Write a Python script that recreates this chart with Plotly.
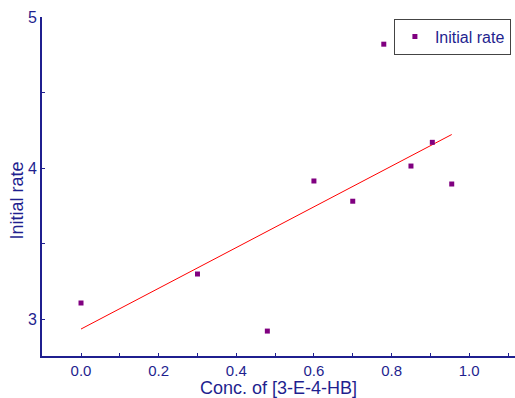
import numpy as np
import plotly.graph_objects as go

conc = [0.0, 0.30, 0.48, 0.60, 0.70, 0.78, 0.85, 0.905, 0.955]
rate = [3.106, 3.298, 2.92, 3.914, 3.78, 4.82, 4.013, 4.17, 3.894]
x_ticks = [0.0, 0.2, 0.4, 0.6, 0.8, 1.0]
x_tick_labels = ["0.0", "0.2", "0.4", "0.6", "0.8", "1.0"]
y_ticks = [3, 4, 5]
y_tick_labels = ["3", "4", "5"]

slope, intercept = np.polyfit(conc, rate, 1)
fit_x = [min(conc), max(conc)]
fit_y = [intercept + slope * v for v in fit_x]

navy = "#1f1f8f"
fig = go.Figure()
fig.add_trace(go.Scatter(x=fit_x, y=fit_y, mode="lines",
                         line=dict(color="red", width=1), showlegend=False))
fig.add_trace(go.Scatter(x=conc, y=rate, mode="markers", name="Initial rate",
                         marker=dict(symbol="square", size=5, color="#800080")))

fig.update_layout(
    width=515, height=398,
    margin=dict(l=42, r=0, t=17, b=42, autoexpand=False),
    paper_bgcolor="white", plot_bgcolor="white",
    font=dict(family="Liberation Sans, Arial, sans-serif", color=navy, size=15),
    legend=dict(x=0.744, y=0.995, xanchor="left", yanchor="top",
                bordercolor="#444444", borderwidth=1, bgcolor="white",
                font=dict(size=16, color=navy),
                itemwidth=30, tracegroupgap=0),
    xaxis=dict(range=[-0.1005, 1.118], tickvals=x_ticks, ticktext=x_tick_labels,
               showgrid=False, zeroline=False, showline=True, linecolor=navy,
               linewidth=2, ticks="inside", ticklen=3, tickcolor=navy,
               minor=dict(ticks="inside", ticklen=3, tickcolor=navy, dtick=0.1),
               title=dict(text="Conc. of [3-E-4-HB]", font=dict(size=18), standoff=8),
               tickfont=dict(size=15)),
    yaxis=dict(range=[2.755, 5.0], tickvals=y_ticks, ticktext=y_tick_labels,
               showgrid=False, zeroline=False, showline=True, linecolor=navy,
               linewidth=2, ticks="inside", ticklen=3, tickcolor=navy,
               minor=dict(ticks="inside", ticklen=3, tickcolor=navy, dtick=0.5),
               tickfont=dict(size=16)),
    annotations=[dict(text="Initial rate", xref="paper", yref="paper",
                      x=-0.052, y=0.46, xanchor="center", yanchor="middle",
                      textangle=-90, showarrow=False,
                      font=dict(size=18, color=navy))],
)
fig.write_html("out.html")
